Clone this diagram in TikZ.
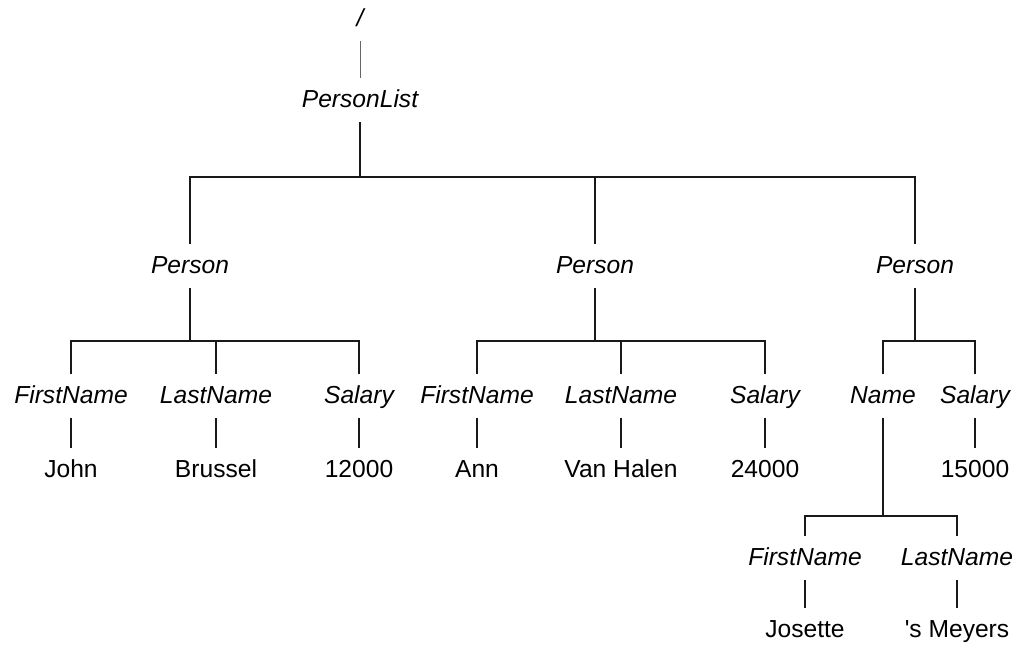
\documentclass[tikz,border=0pt]{standalone}
\usepackage{fontspec}
\setmainfont{Liberation Sans}[Ligatures=TeXOff]
\newcommand{\tagfont}{\fontsize{17.5}{20}\selectfont}
\tikzset{
  elem/.style={font=\itshape\tagfont, inner sep=0pt, minimum height=1.1cm, text height=1.9ex, text depth=0ex},
  val/.style={elem, font=\tagfont},
  link/.style={line width=1.4pt, black!90},
}

\begin{document}
\begin{tikzpicture}[x=0.025cm, y=-0.025cm]
    \useasboundingbox (0,0) rectangle (1012,649);
    % root and list
    \node[elem] (root) at (360,19) {/};
    \node[elem] (plist) at (360,100) {PersonList};
    \foreach \n/\x in {pa/190,pb/595,pc/915} {
        \node[elem] (\n) at (\x,266) {Person};
    }
    % first and second person
    \foreach \p/\xf/\xl/\xs/\vf/\vl/\vs in {a/71/216/359/John/Brussel/12000, b/477/621/765/Ann/Van Halen/24000} {
        \node[elem] (first\p) at (\xf,396) {FirstName};
        \node[elem] (last\p) at (\xl,396) {LastName};
        \node[elem] (sal\p) at (\xs,396) {Salary};
        \node[val] (vfirst\p) at (\xf,470) {\vf};
        \node[val] (vlast\p) at (\xl,470) {\vl};
        \node[val] (vsal\p) at (\xs,470) {\vs};
    }
    % third person
    \node[elem] (namec) at (883,396) {Name};
    \node[elem] (salc) at (975,396) {Salary};
    \node[val] (vsalc) at (975,470) {15000};
    \node[elem] (firstc) at (805,558) {FirstName};
    \node[elem] (lastc) at (957,558) {LastName};
    \node[val] (vfirstc) at (805,630) {Josette};
    \node[val] (vlastc) at (957,630) {'s Meyers};

    % connectors
    \draw[line width=0.7pt, black!60] (root) -- (plist);
    \coordinate (jl) at (360,177);
    \draw[link] (plist) -- (jl);
    \foreach \n in {pa,pb,pc} {
        \draw[link] (jl) -| (\n);
    }
    \coordinate (ja) at (190,341);
    \coordinate (jb) at (595,341);
    \foreach \p in {a,b} {
        \draw[link] (p\p) -- (j\p);
        \foreach \c in {first,last,sal} {
            \draw[link] (j\p) -| (\c\p);
            \draw[link] (\c\p) -- (v\c\p);
        }
    }
    \coordinate (jc) at (915,341);
    \draw[link] (pc) -- (jc);
    \draw[link] (jc) -| (namec);
    \draw[link] (jc) -| (salc);
    \draw[link] (salc) -- (vsalc);
    \coordinate (jn) at (883,516);
    \draw[link] (namec) -- (jn);
    \foreach \c in {first,last} {
        \draw[link] (jn) -| (\c c);
        \draw[link] (\c c) -- (v\c c);
    }
\end{tikzpicture}
\end{document}
